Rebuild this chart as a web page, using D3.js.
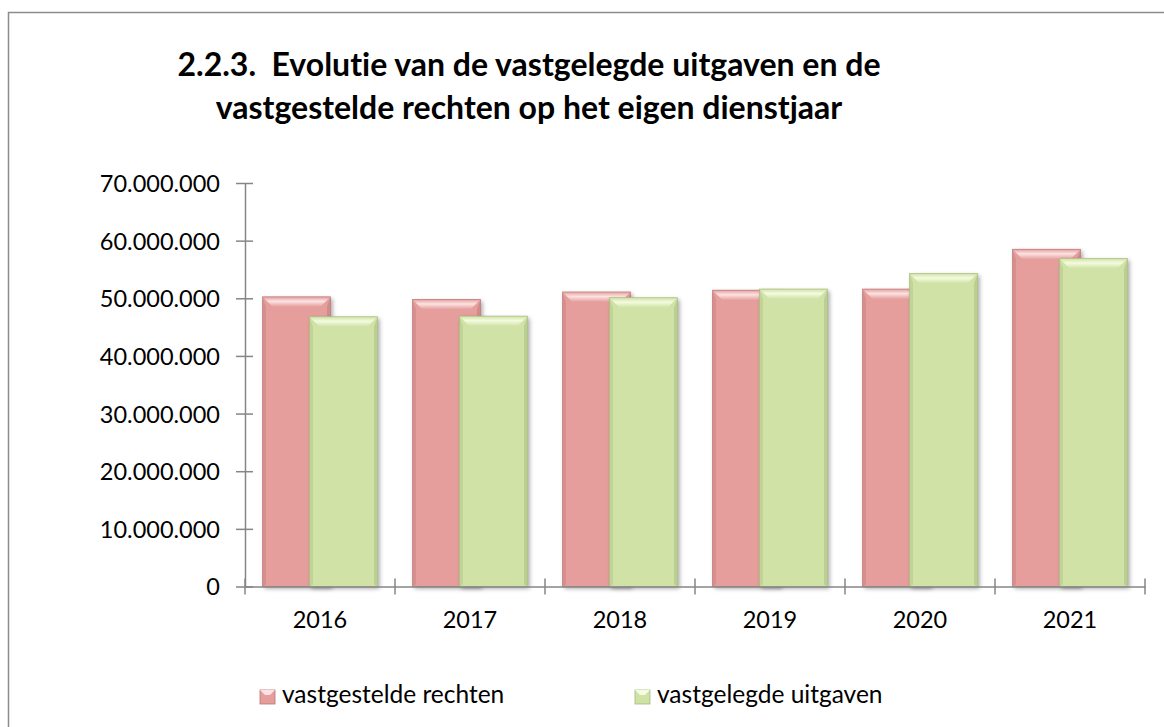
<!DOCTYPE html>
<html>
<head>
<meta charset="utf-8">
<script src="https://cdn.jsdelivr.net/npm/d3@7"></script>
<style>
  html, body { margin: 0; padding: 0; background: #fff; }
  svg { display: block; font-family: Lato, "Open Sans", sans-serif; font-variant-ligatures: none; }
</style>
</head>
<body>
<div id="chart"></div>
<script>
const years = ['2016', '2017', '2018', '2019', '2020', '2021'];
const seriesNames = ['vastgestelde rechten', 'vastgelegde uitgaven'];
const rechten = [50250000, 49800000, 51100000, 51400000, 51600000, 58500000];
const uitgaven = [46800000, 46900000, 50100000, 51600000, 54300000, 56900000];
const yTicks = [0, 10000000, 20000000, 30000000, 40000000, 50000000, 60000000, 70000000];
const titleLines = ['2.2.3.  Evolutie van de vastgelegde uitgaven en de',
  'vastgestelde rechten op het eigen dienstjaar'];

const W = 1164, H = 727;
const fills = ['#e59e9c', '#d0e2a6'];
const lights = ['#fbe3e2', '#f4fbdf'];
const darks = ['#b97473', '#a5b97c'];

const svg = d3.select('#chart').append('svg')
  .attr('width', W)
  .attr('height', H);

const defs = svg.append('defs');
defs.append('filter')
  .attr('id', 'shadow')
  .attr('x', '-20%').attr('y', '-20%').attr('width', '150%').attr('height', '150%')
  .append('feDropShadow')
  .attr('dx', 2).attr('dy', 2).attr('stdDeviation', 2)
  .attr('flood-color', '#000').attr('flood-opacity', 0.35);
fills.forEach((c, i) => {
  const g = defs.append('linearGradient')
    .attr('id', 'top' + i).attr('x1', 0).attr('y1', 0).attr('x2', 0).attr('y2', 1);
  g.append('stop').attr('offset', '0%').attr('stop-color', c);
  g.append('stop').attr('offset', '45%').attr('stop-color', lights[i]);
  g.append('stop').attr('offset', '100%').attr('stop-color', c);
});

// frame (cropped)
svg.append('path')
  .attr('d', `M8.5,${H} L8.5,12.5 L${W},12.5`)
  .attr('fill', 'none')
  .attr('stroke', '#8c8c8c')
  .attr('stroke-width', 1.5);

// title
svg.append('text')
  .attr('x', 529)
  .attr('text-anchor', 'middle')
  .style('font-size', '32px')
  .style('font-weight', 'bold')
  .style('white-space', 'pre')
  .attr('fill', '#000')
  .selectAll('tspan')
  .data(titleLines)
  .enter()
  .append('tspan')
  .attr('x', 529)
  .attr('y', (d, i) => 76 + i * 43)
  .text(d => d);

const x = d3.scaleBand()
  .domain(years)
  .range([245, 1145])
  .padding(0);

const y = d3.scaleLinear()
  .domain([0, 70000000])
  .range([586.5, 183]);

const barW = 68;
const groupW = 115;
const xs = d3.scalePoint()
  .domain(seriesNames)
  .range([-(groupW - barW) / 2, (groupW - barW) / 2]);

const nl = d3.formatLocale({ decimal: ',', thousands: '.', grouping: [3], currency: ['', ''] });
const fmt = nl.format(',d');

// y axis
const yAxis = svg.append('g')
  .attr('transform', 'translate(245,0)')
  .call(d3.axisLeft(y).tickValues(yTicks).tickFormat(fmt).tickSizeInner(8).tickSizeOuter(0).tickPadding(17));
yAxis.select('.domain').attr('stroke', '#868686').attr('stroke-width', 1.5);
yAxis.selectAll('.tick line').attr('stroke', '#868686').attr('stroke-width', 1.5)
  .attr('x1', 8).attr('x2', -9);
yAxis.selectAll('.tick text')
  .style('font-size', '23.5px')
  .style('font-family', 'Lato, sans-serif')
  .attr('fill', '#000')
  .attr('dy', '0.36em');

// bars
const data = years.map((yr, i) => ({ year: yr, values: [rechten[i], uitgaven[i]] }));
const bev = 10;

function bar(g, x0, v, si) {
  const y0 = y(v), h = y(0) - y0, w = barW;
  const b = Math.min(bev, h / 2);
  const grp = g.append('g');
  grp.append('rect')
    .attr('x', x0).attr('y', y0).attr('width', w).attr('height', h)
    .attr('fill', fills[si])
    .attr('filter', 'url(#shadow)');
  // top bevel
  grp.append('polygon')
    .attr('points', [[x0, y0], [x0 + w, y0], [x0 + w - b, y0 + b], [x0 + b, y0 + b]].join(' '))
    .attr('fill', `url(#top${si})`);
  // side bevels
  grp.append('polygon')
    .attr('points', [[x0, y0], [x0 + b * 0.35, y0 + b], [x0 + b * 0.35, y0 + h - 2], [x0, y0 + h]].join(' '))
    .attr('fill', darks[si]).attr('opacity', 0.35);
  grp.append('polygon')
    .attr('points', [[x0 + w, y0], [x0 + w - b * 0.35, y0 + b], [x0 + w - b * 0.35, y0 + h - 2], [x0 + w, y0 + h]].join(' '))
    .attr('fill', darks[si]).attr('opacity', 0.45);
  grp.append('rect')
    .attr('x', x0).attr('y', y0).attr('width', w).attr('height', h)
    .attr('fill', 'none')
    .attr('stroke', darks[si]).attr('stroke-width', 0.8).attr('stroke-opacity', 0.8);
}

const barsG = svg.append('g');
data.forEach(d => {
  const cx = x(d.year) + x.bandwidth() / 2;
  seriesNames.forEach((s, si) => {
    bar(barsG, cx + xs(s) - barW / 2, d.values[si], si);
  });
});

// x axis
const xAxis = svg.append('g')
  .attr('transform', `translate(0,${y(0)})`)
  .call(d3.axisBottom(x).tickSize(0).tickPadding(25));
xAxis.select('.domain').attr('stroke', '#868686').attr('stroke-width', 1.5);
xAxis.selectAll('.tick text')
  .style('font-size', '23.5px')
  .style('font-family', 'Lato, sans-serif')
  .attr('fill', '#000');
xAxis.selectAll('.bound')
  .data(d3.range(years.length + 1))
  .enter()
  .append('line')
  .attr('class', 'bound')
  .attr('x1', i => 245 + i * x.bandwidth())
  .attr('x2', i => 245 + i * x.bandwidth())
  .attr('y1', -8).attr('y2', 8)
  .attr('stroke', '#868686').attr('stroke-width', 1.5);

// legend
const legend = svg.append('g')
  .selectAll('g')
  .data(seriesNames)
  .enter()
  .append('g')
  .attr('transform', (d, i) => `translate(${[260, 635][i]},690)`);
legend.append('rect')
  .attr('width', 15).attr('height', 14)
  .attr('fill', (d, i) => fills[i])
  .attr('stroke', (d, i) => darks[i]).attr('stroke-width', 0.8);
legend.append('polygon')
  .attr('points', '0,0 15,0 10,5 5,5')
  .attr('fill', (d, i) => lights[i]);
legend.append('text')
  .attr('x', 22).attr('y', 13)
  .style('font-size', '24.5px')
  .attr('fill', '#000')
  .text(d => d);
</script>
</body>
</html>
